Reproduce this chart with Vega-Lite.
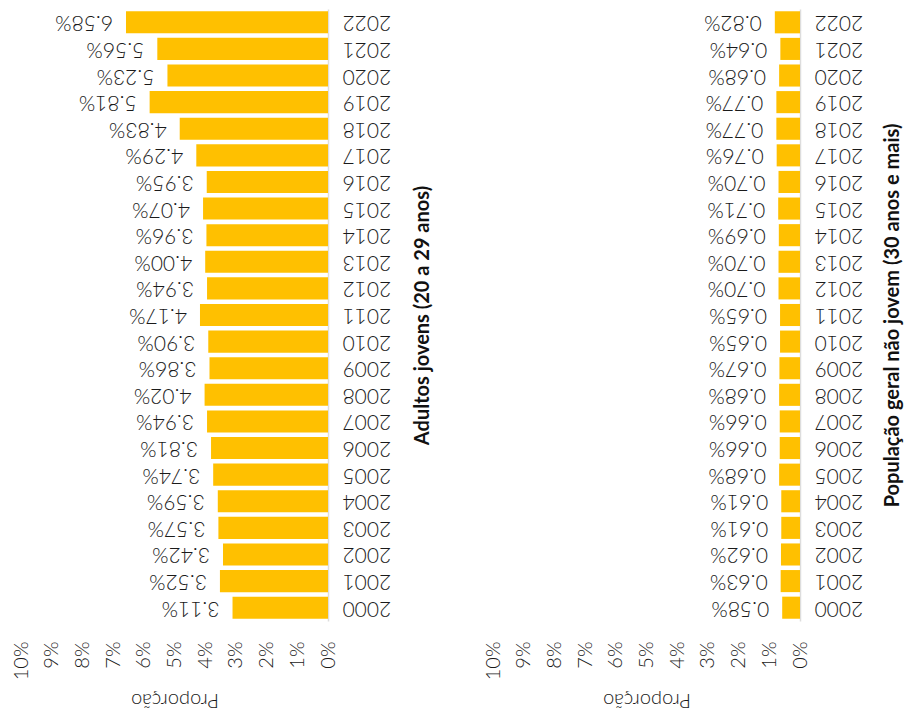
{
  "$schema": "https://vega.github.io/schema/vega-lite/v6.json",
  "background": "white",
  "padding": {"left": 11, "top": 9, "right": 5, "bottom": 5},
  "datasets": {
    "jovens": [
      {"ano": 2000, "proporcao": 0.0311},
      {"ano": 2001, "proporcao": 0.0352},
      {"ano": 2002, "proporcao": 0.0342},
      {"ano": 2003, "proporcao": 0.0357},
      {"ano": 2004, "proporcao": 0.0359},
      {"ano": 2005, "proporcao": 0.0374},
      {"ano": 2006, "proporcao": 0.0381},
      {"ano": 2007, "proporcao": 0.0394},
      {"ano": 2008, "proporcao": 0.0402},
      {"ano": 2009, "proporcao": 0.0386},
      {"ano": 2010, "proporcao": 0.0390},
      {"ano": 2011, "proporcao": 0.0417},
      {"ano": 2012, "proporcao": 0.0394},
      {"ano": 2013, "proporcao": 0.0400},
      {"ano": 2014, "proporcao": 0.0396},
      {"ano": 2015, "proporcao": 0.0407},
      {"ano": 2016, "proporcao": 0.0395},
      {"ano": 2017, "proporcao": 0.0429},
      {"ano": 2018, "proporcao": 0.0483},
      {"ano": 2019, "proporcao": 0.0581},
      {"ano": 2020, "proporcao": 0.0523},
      {"ano": 2021, "proporcao": 0.0556},
      {"ano": 2022, "proporcao": 0.0658}
    ],
    "geral": [
      {"ano": 2000, "proporcao": 0.0058},
      {"ano": 2001, "proporcao": 0.0063},
      {"ano": 2002, "proporcao": 0.0062},
      {"ano": 2003, "proporcao": 0.0061},
      {"ano": 2004, "proporcao": 0.0061},
      {"ano": 2005, "proporcao": 0.0068},
      {"ano": 2006, "proporcao": 0.0066},
      {"ano": 2007, "proporcao": 0.0066},
      {"ano": 2008, "proporcao": 0.0068},
      {"ano": 2009, "proporcao": 0.0067},
      {"ano": 2010, "proporcao": 0.0065},
      {"ano": 2011, "proporcao": 0.0065},
      {"ano": 2012, "proporcao": 0.0070},
      {"ano": 2013, "proporcao": 0.0070},
      {"ano": 2014, "proporcao": 0.0069},
      {"ano": 2015, "proporcao": 0.0071},
      {"ano": 2016, "proporcao": 0.0070},
      {"ano": 2017, "proporcao": 0.0076},
      {"ano": 2018, "proporcao": 0.0077},
      {"ano": 2019, "proporcao": 0.0077},
      {"ano": 2020, "proporcao": 0.0068},
      {"ano": 2021, "proporcao": 0.0064},
      {"ano": 2022, "proporcao": 0.0082}
    ]
  },
  "spacing": 50,
  "hconcat": [
    {
      "width": 307,
      "height": 612,
      "data": {"name": "jovens"},
      "encoding": {
        "y": {
          "field": "ano", "type": "ordinal", "sort": "descending",
          "scale": {"paddingInner": 0.17},
          "axis": {"orient": "right", "title": "Adultos jovens (20 a 29 anos)", "labelAngle": 180, "labelAlign": "right", "labelBaseline": "middle", "titleAngle": -90, "titleBaseline": "top", "titlePadding": 22}
        },
        "x": {
          "field": "proporcao", "type": "quantitative",
          "scale": {"domain": [0, 0.1], "reverse": true},
          "axis": {"format": "%", "values": [0, 0.01, 0.02, 0.03, 0.04, 0.05, 0.06, 0.07, 0.08, 0.09, 0.1], "labelAngle": -90, "title": "Proporção", "titleAngle": 180, "titleBaseline": "bottom"}
        }
      },
      "layer": [
        {"mark": {"type": "bar", "color": "#FFC000"}},
        {"mark": {"type": "text", "angle": 180, "align": "left", "baseline": "middle", "dx": 13, "fontSize": 21, "fontWeight": 300, "color": "#1a1a1a"},
         "encoding": {"text": {"field": "proporcao", "type": "quantitative", "format": ".2%"}}}
      ]
    },
    {
      "width": 307,
      "height": 612,
      "data": {"name": "geral"},
      "encoding": {
        "y": {
          "field": "ano", "type": "ordinal", "sort": "descending",
          "scale": {"paddingInner": 0.17},
          "axis": {"orient": "right", "title": "População geral não jovem (30 anos e mais)", "labelAngle": 180, "labelAlign": "right", "labelBaseline": "middle", "titleAngle": -90, "titleBaseline": "top", "titlePadding": 20}
        },
        "x": {
          "field": "proporcao", "type": "quantitative",
          "scale": {"domain": [0, 0.1], "reverse": true},
          "axis": {"format": "%", "values": [0, 0.01, 0.02, 0.03, 0.04, 0.05, 0.06, 0.07, 0.08, 0.09, 0.1], "labelAngle": -90, "title": "Proporção", "titleAngle": 180, "titleBaseline": "bottom"}
        }
      },
      "layer": [
        {"mark": {"type": "bar", "color": "#FFC000"}},
        {"mark": {"type": "text", "angle": 180, "align": "left", "baseline": "middle", "dx": 13, "fontSize": 21, "fontWeight": 300, "color": "#1a1a1a"},
         "encoding": {"text": {"field": "proporcao", "type": "quantitative", "format": ".2%"}}}
      ]
    }
  ],
  "config": {
    "font": "Lato",
    "view": {"stroke": null},
    "axisY": {"domain": true, "domainColor": "#dddddd", "domainWidth": 1.5, "ticks": false, "grid": false, "labelFontSize": 21, "labelFontWeight": 300, "labelPadding": 14, "labelColor": "#1a1a1a", "titleFontSize": 20, "titleFontWeight": "bold", "titleColor": "#111111"},
    "axisX": {"domain": false, "ticks": false, "grid": false, "labelFontSize": 20, "labelFontWeight": 300, "labelPadding": 20, "labelColor": "#1a1a1a", "titleFontSize": 20, "titleFontWeight": 300, "titlePadding": 10, "titleColor": "#1a1a1a"}
  }
}
